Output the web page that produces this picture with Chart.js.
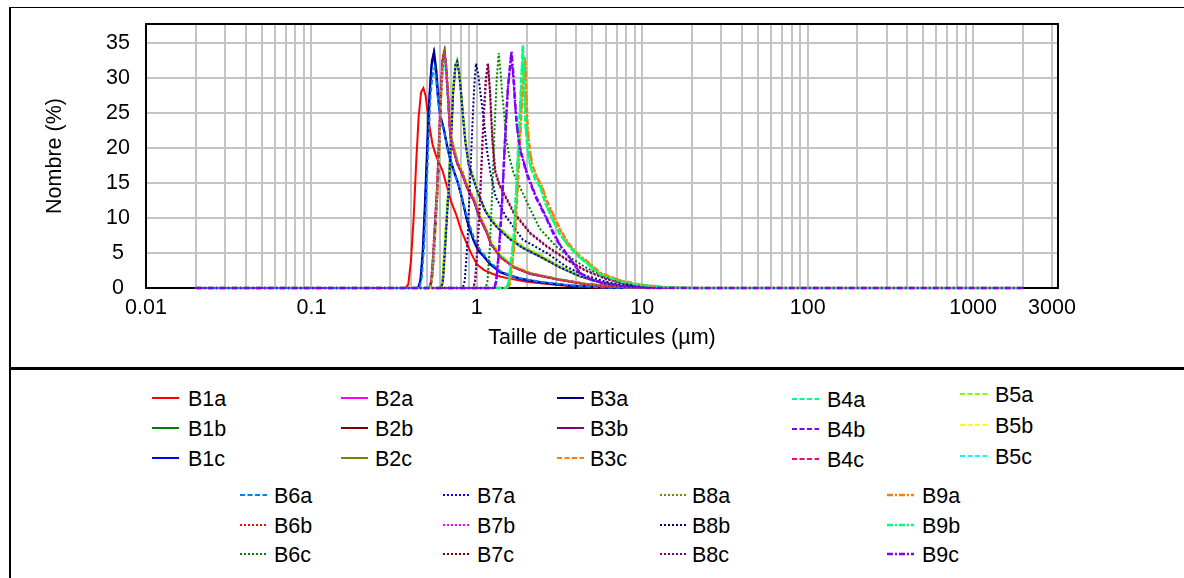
<!DOCTYPE html>
<html><head><meta charset="utf-8">
<script src="https://cdn.jsdelivr.net/npm/chart.js@4.4.1/dist/chart.umd.min.js"></script>
<style>
html,body{margin:0;padding:0;background:#fff;width:1184px;height:578px;overflow:hidden;font-family:"Liberation Sans",Arial,sans-serif;}
#frame{position:absolute;left:9px;top:7px;width:1200px;height:620px;border-left:2px solid #000;border-top:1.5px solid #000;box-sizing:border-box;}
#divider{position:absolute;left:10px;top:367px;width:1174px;height:2.5px;background:#000;}
#c{position:absolute;left:0;top:0;}
.lab{position:absolute;font-size:21.5px;line-height:24px;color:#000;white-space:nowrap;}
.smp{position:absolute;overflow:visible;}
</style></head><body>
<div id="frame"></div>
<canvas id="c" width="1184" height="368"></canvas>
<div id="divider"></div>
<div id="legend"></div>
<script>
// ---- data: [particle size (µm), number (%)] ----
const B1a = [[0.02,0],[0.37,0],[0.385,0.5],[0.40,4],[0.415,10],[0.43,18],[0.445,24.5],[0.46,28],[0.475,28.6],[0.49,27.5],[0.505,25],[0.52,22.8],[0.54,20.5],[0.565,19],[0.59,17.9],[0.62,16.8],[0.66,14.5],[0.70,12.3],[0.75,10.5],[0.80,8.4],[0.86,6.6],[0.93,4.8],[1.0,3.4],[1.1,2.6],[1.25,2.0],[1.4,1.6],[1.7,1.2],[2.0,0.9],[2.6,0.6],[3.3,0.35],[4.5,0.15],[6,0.05],[8,0],[2000,0]];
const B1b = [[0.02,0],[0.605,0],[0.62,1],[0.64,6],[0.66,11],[0.675,14.5],[0.695,21],[0.715,27.5],[0.74,31.5],[0.76,32.5],[0.78,31],[0.795,29],[0.815,25.9],[0.85,21.1],[0.89,17.8],[0.93,16.4],[1.02,13.5],[1.12,11.1],[1.21,9.9],[1.3,9.0],[1.39,8.3],[1.6,7.0],[1.9,5.8],[2.4,4.6],[3.2,3.0],[4.2,1.7],[5.6,0.8],[7.5,0.3],[10,0.1],[14,0],[2000,0]];
const B1c = [[0.02,0],[0.44,0],[0.455,1],[0.47,5],[0.485,12],[0.50,20],[0.515,27],[0.53,31.5],[0.548,33.5],[0.565,31],[0.58,27.5],[0.60,24.5],[0.63,22.8],[0.66,20.3],[0.69,18.3],[0.73,16.5],[0.76,15.4],[0.81,13],[0.87,9.7],[0.95,6.9],[1.02,5.3],[1.1,4.5],[1.2,3.4],[1.39,2.2],[1.6,1.7],[1.83,1.3],[2.4,0.8],[3.6,0.35],[5.6,0.1],[8,0],[2000,0]];
const B2a = [[0.02,0],[0.515,0],[0.53,1],[0.545,5],[0.56,10],[0.575,14.5],[0.59,21],[0.605,28],[0.62,32.5],[0.635,33.8],[0.65,32],[0.66,29.7],[0.675,25.9],[0.69,21.8],[0.725,19.7],[0.76,17.9],[0.815,16.4],[0.87,14.5],[0.96,12.6],[1.04,10.2],[1.16,7.8],[1.21,6.4],[1.39,4.5],[1.67,3.0],[2.1,2.1],[3.2,1.2],[4.5,0.6],[6.3,0.25],[9,0.05],[12,0],[2000,0]];
const B2b = [[0.02,0],[0.52,0],[0.535,1.5],[0.55,5.5],[0.565,10.5],[0.58,15],[0.595,22],[0.61,29],[0.625,33],[0.638,33.9],[0.652,31.5],[0.664,28.8],[0.678,25.2],[0.695,21.5],[0.73,19.4],[0.765,17.7],[0.82,16.2],[0.875,14.3],[0.96,12.5],[1.04,10.1],[1.16,7.7],[1.22,6.3],[1.39,4.4],[1.67,3.0],[2.1,2.0],[3.2,1.15],[4.5,0.55],[6.3,0.25],[9,0.05],[12,0],[2000,0]];
const B2c = [[0.02,0],[0.61,0],[0.625,1],[0.645,6],[0.665,11.5],[0.68,15],[0.70,21.5],[0.72,28],[0.745,31.8],[0.763,32.3],[0.783,30.6],[0.8,28.5],[0.82,25.5],[0.855,20.8],[0.895,17.6],[0.935,16.2],[1.025,13.4],[1.125,11],[1.215,9.8],[1.3,8.9],[1.39,8.2],[1.6,6.9],[1.9,5.7],[2.4,4.5],[3.2,2.9],[4.2,1.65],[5.6,0.8],[7.5,0.3],[10,0.1],[14,0],[2000,0]];
const B3a = [[0.02,0],[0.445,0],[0.46,1.5],[0.475,6],[0.49,13],[0.505,21],[0.52,28],[0.535,32.5],[0.552,33.8],[0.57,31],[0.585,27.5],[0.605,24.5],[0.635,22.5],[0.665,20.1],[0.695,18.2],[0.735,16.4],[0.765,15.2],[0.815,12.8],[0.875,9.6],[0.95,7.0],[1.02,5.4],[1.1,4.6],[1.2,3.5],[1.39,2.3],[1.6,1.8],[1.83,1.35],[2.4,0.85],[3.6,0.35],[5.6,0.1],[8,0],[2000,0]];
const B3b = [[0.02,0],[0.52,0],[0.535,1],[0.55,4.5],[0.565,9.5],[0.58,14],[0.595,21],[0.61,28],[0.625,32.2],[0.637,33.5],[0.65,31.8],[0.662,29],[0.676,25.5],[0.692,21.7],[0.727,19.6],[0.762,17.8],[0.817,16.3],[0.872,14.4],[0.96,12.4],[1.04,10],[1.16,7.7],[1.21,6.4],[1.39,4.5],[1.67,3.0],[2.1,2.1],[3.2,1.2],[4.5,0.6],[6.3,0.25],[9,0.05],[12,0],[2000,0]];
const B3c = [[0.02,0],[1.52,0],[1.57,0.6],[1.62,3],[1.69,7],[1.77,16],[1.85,25],[1.92,31.5],[1.95,33.0],[1.98,28.5],[2.02,23],[2.08,20],[2.15,17.8],[2.3,15.9],[2.46,14.6],[2.65,12.3],[2.95,9.9],[3.25,7.9],[3.6,6.2],[4.1,4.7],[4.6,3.8],[5.6,2.1],[7.3,1.1],[9.8,0.45],[14,0.1],[20,0],[2000,0]];
const B4a = [[0.02,0],[1.5,0],[1.55,0.5],[1.6,3],[1.67,7],[1.75,16.4],[1.83,25.9],[1.89,34.5],[1.93,29],[1.96,23.5],[2.03,19.5],[2.1,17.3],[2.25,15.5],[2.42,14.3],[2.6,12],[2.9,9.5],[3.2,7.5],[3.6,5.9],[4.1,4.5],[4.6,3.5],[5.6,1.9],[7.3,0.9],[9.8,0.4],[14,0.1],[20,0],[2000,0]];
const B4b = [[0.02,0],[1.28,0],[1.31,1.2],[1.36,5.5],[1.42,12.5],[1.48,21.5],[1.54,28.6],[1.61,33.2],[1.66,30.2],[1.70,26.3],[1.745,23.2],[1.83,19.9],[2.0,16.6],[2.27,13.2],[2.6,10.4],[2.9,8.0],[3.2,6.1],[3.5,4.9],[3.8,3.7],[4.2,2.2],[4.9,1.25],[6,0.6],[8,0.2],[11,0],[2000,0]];
const B4c = [[0.02,0],[0.518,0],[0.533,1],[0.548,5],[0.563,10],[0.578,14.5],[0.593,21.5],[0.608,28.5],[0.623,32.5],[0.637,33.3],[0.652,31.2],[0.663,28.9],[0.678,25.3],[0.694,21.4],[0.73,19.5],[0.766,17.7],[0.82,16.2],[0.876,14.4],[0.965,12.5],[1.045,10.1],[1.165,7.8],[1.22,6.4],[1.4,4.5],[1.68,3.1],[2.12,2.1],[3.2,1.2],[4.5,0.6],[6.3,0.25],[9,0.05],[12,0],[2000,0]];
const B5a = [[0.02,0],[0.605,0],[0.62,1.2],[0.64,6.5],[0.66,11.5],[0.675,14.8],[0.695,21.5],[0.715,28],[0.74,31.8],[0.758,32.6],[0.778,31.2],[0.795,29.2],[0.815,26],[0.85,21.3],[0.89,18],[0.93,16.6],[1.02,13.7],[1.12,11.3],[1.21,10.1],[1.3,9.2],[1.39,8.5],[1.6,7.2],[1.9,6.0],[2.4,4.8],[3.2,3.1],[4.2,1.8],[5.6,0.85],[7.5,0.35],[10,0.1],[14,0],[2000,0]];
const B5b = [[0.02,0],[0.52,0],[0.535,1],[0.55,4.5],[0.565,9],[0.58,13.5],[0.595,20],[0.61,27],[0.625,31.5],[0.64,32.8],[0.655,31],[0.667,28.5],[0.68,25.5],[0.697,22],[0.732,20],[0.768,18.2],[0.822,16.7],[0.878,14.8],[0.965,12.9],[1.045,10.5],[1.165,8.1],[1.22,6.8],[1.4,4.8],[1.68,3.2],[2.12,2.2],[3.2,1.25],[4.5,0.6],[6.3,0.25],[9,0.05],[12,0],[2000,0]];
const B5c = [[0.02,0],[0.515,0],[0.53,1],[0.545,4.5],[0.56,9.5],[0.575,14],[0.59,20.5],[0.605,27.5],[0.62,31.5],[0.635,32.4],[0.65,30.8],[0.661,28.6],[0.676,25.2],[0.692,21.6],[0.727,19.8],[0.762,18],[0.817,16.5],[0.872,14.6],[0.962,12.7],[1.042,10.3],[1.162,7.9],[1.215,6.6],[1.395,4.6],[1.675,3.1],[2.1,2.1],[3.2,1.2],[4.5,0.6],[6.3,0.25],[9,0.05],[12,0],[2000,0]];
const B6a = [[0.02,0],[0.45,0],[0.465,1.5],[0.48,6],[0.495,13],[0.51,21],[0.525,27.5],[0.54,30.5],[0.555,31.5],[0.57,29.5],[0.585,26.5],[0.605,24],[0.635,22.2],[0.665,19.8],[0.70,18],[0.735,16.2],[0.77,15],[0.82,12.6],[0.88,9.8],[0.96,7.2],[1.03,5.7],[1.1,4.8],[1.2,3.7],[1.39,2.4],[1.6,1.8],[1.83,1.4],[2.4,0.9],[3.6,0.4],[5.6,0.1],[8,0],[2000,0]];
const B6b = [[0.02,0],[0.515,0],[0.53,1.2],[0.545,5.2],[0.56,10.2],[0.575,14.6],[0.59,21.3],[0.605,28.3],[0.62,32.8],[0.635,33.8],[0.65,31.9],[0.66,29.6],[0.675,25.7],[0.69,21.7],[0.725,19.6],[0.76,17.8],[0.815,16.3],[0.87,14.4],[0.96,12.5],[1.04,10.1],[1.16,7.7],[1.21,6.3],[1.39,4.4],[1.67,2.95],[2.1,2.05],[3.2,1.15],[4.5,0.55],[6.3,0.2],[9,0.05],[12,0],[2000,0]];
const B6c = [[0.02,0],[1.13,0],[1.16,1],[1.2,6],[1.24,14],[1.28,23],[1.32,30],[1.356,33.6],[1.39,31],[1.42,28],[1.45,25.9],[1.51,21.1],[1.58,18.5],[1.67,16.4],[1.9,13.5],[2.1,11.3],[2.4,8.5],[3.0,6.0],[3.6,4.5],[4.5,3.0],[6,1.5],[8,0.6],[11,0.15],[15,0],[2000,0]];
const B7a = [[0.02,0],[0.61,0],[0.625,1.2],[0.645,6.2],[0.665,11.7],[0.68,15.2],[0.70,21.8],[0.72,28.2],[0.742,31.9],[0.76,32.4],[0.78,30.8],[0.797,28.7],[0.817,25.6],[0.852,21],[0.892,17.7],[0.932,16.3],[1.022,13.5],[1.122,11.1],[1.212,9.8],[1.3,8.9],[1.39,8.2],[1.6,6.9],[1.9,5.7],[2.4,4.5],[3.2,2.9],[4.2,1.7],[5.6,0.8],[7.5,0.3],[10,0.1],[14,0],[2000,0]];
const B7b = [[0.02,0],[0.52,0],[0.535,1.3],[0.55,5.3],[0.565,10.3],[0.58,14.8],[0.595,21.6],[0.61,28.6],[0.625,32.8],[0.638,33.6],[0.653,31.4],[0.664,29],[0.679,25.4],[0.695,21.6],[0.73,19.6],[0.765,17.8],[0.82,16.3],[0.875,14.4],[0.965,12.5],[1.045,10.1],[1.165,7.7],[1.215,6.3],[1.395,4.4],[1.675,3.0],[2.1,2.1],[3.2,1.15],[4.5,0.55],[6.3,0.2],[9,0.05],[12,0],[2000,0]];
const B7c = [[0.02,0],[0.95,0],[0.975,1],[1.01,6],[1.05,14],[1.09,23],[1.13,29.5],[1.165,32.2],[1.2,28],[1.24,21],[1.29,16.6],[1.36,14.8],[1.45,13.5],[1.67,10.7],[2.1,7.8],[2.65,5.9],[3.5,4.0],[4.5,2.5],[6,1.3],[8,0.6],[12,0.15],[16,0],[2000,0]];
const B8a = [[0.02,0],[0.52,0],[0.535,1.2],[0.55,5.5],[0.565,10.5],[0.58,15.2],[0.595,22],[0.61,29],[0.625,33.2],[0.64,34],[0.655,31.8],[0.666,29.3],[0.68,25.6],[0.697,21.8],[0.732,19.8],[0.768,18],[0.822,16.5],[0.878,14.6],[0.968,12.6],[1.048,10.2],[1.168,7.8],[1.22,6.4],[1.4,4.5],[1.68,3.0],[2.12,2.1],[3.2,1.2],[4.5,0.6],[6.3,0.25],[9,0.05],[12,0],[2000,0]];
const B8b = [[0.02,0],[0.82,0],[0.845,1],[0.875,6],[0.905,14],[0.935,22],[0.965,29],[0.99,32.1],[1.02,30.5],[1.05,28],[1.1,24.2],[1.15,19.8],[1.21,16.4],[1.3,13],[1.5,10.2],[1.9,6.9],[2.65,5.0],[3.5,3.0],[4.5,1.8],[6,0.9],[8,0.4],[12,0.1],[16,0],[2000,0]];
const B8c = [[0.02,0],[0.955,0],[0.98,1.2],[1.015,6.5],[1.055,14.5],[1.095,23.5],[1.135,29.8],[1.17,32.0],[1.205,27.8],[1.245,21],[1.295,16.8],[1.365,14.9],[1.455,13.6],[1.68,10.8],[2.1,7.9],[2.65,6.0],[3.5,4.1],[4.5,2.6],[6,1.35],[8,0.6],[12,0.15],[16,0],[2000,0]];
const B9a = [[0.02,0],[1.53,0],[1.58,0.5],[1.63,3],[1.70,7],[1.78,16],[1.86,25],[1.93,31],[1.96,32.6],[1.99,28],[2.03,22.8],[2.09,19.8],[2.16,17.6],[2.31,15.8],[2.47,14.6],[2.66,12.4],[2.96,10],[3.26,8],[3.6,6.3],[4.1,4.8],[4.6,3.9],[5.6,2.15],[7.3,1.1],[9.8,0.45],[14,0.1],[20,0],[2000,0]];
const B9b = [[0.02,0],[1.5,0],[1.55,0.6],[1.6,3.2],[1.67,7.2],[1.75,16.6],[1.83,26.2],[1.9,34.7],[1.94,29],[1.97,23.8],[2.04,19.7],[2.11,17.5],[2.26,15.6],[2.43,14.4],[2.6,12.1],[2.9,9.6],[3.2,7.6],[3.6,6.0],[4.1,4.6],[4.6,3.6],[5.6,1.95],[7.3,0.95],[9.8,0.4],[14,0.1],[20,0],[2000,0]];
const B9c = [[0.02,0],[1.28,0],[1.31,1],[1.36,5],[1.42,12],[1.48,21],[1.54,28.5],[1.62,33.8],[1.67,30],[1.71,26],[1.75,23],[1.83,19.7],[2.0,16.4],[2.27,13],[2.6,10.2],[2.9,7.8],[3.2,6.0],[3.5,4.8],[3.8,3.6],[4.2,2.1],[4.9,1.2],[6,0.6],[8,0.2],[11,0],[2000,0]];

const seriesNames = ['B1a','B1b','B1c','B2a','B2b','B2c','B3a','B3b','B3c','B4a','B4b','B4c','B5a','B5b','B5c','B6a','B6b','B6c','B7a','B7b','B7c','B8a','B8b','B8c','B9a','B9b','B9c'];
const seriesData = [B1a,B1b,B1c,B2a,B2b,B2c,B3a,B3b,B3c,B4a,B4b,B4c,B5a,B5b,B5c,B6a,B6b,B6c,B7a,B7b,B7c,B8a,B8b,B8c,B9a,B9b,B9c];

// x gridline values and labelled ticks; y ticks
const xGridValues = [0.01,0.02,0.03,0.04,0.05,0.06,0.07,0.08,0.09,0.1,0.2,0.3,0.4,0.5,0.6,0.7,0.8,0.9,1,2,3,4,5,6,7,8,9,10,20,30,40,50,60,70,80,90,100,200,300,400,500,600,700,800,900,1000,2000,3000];
const xTickLabels = [0.01,0.1,1,10,100,1000,3000];
const yTicks = [0,5,10,15,20,25,30,35];

// ---- styles ----
const seriesColors = ['#FF0000','#008000','#0000FF','#FF00FF','#800000','#808000','#000080','#800080','#FF8000','#00FF80','#8000FF','#FF0080','#80FF00','#FFFF00','#00FFFF','#0080FF','#FF0000','#008000','#0000FF','#FF00FF','#800000','#808000','#000080','#800080','#FF8000','#00FF80','#8000FF'];
const seriesStyles = ['solid','solid','solid','solid','solid','solid','solid','solid','dash','dash','dash','dash','dash','dash','dash','dash','dot','dot','dot','dot','dot','dot','dot','dot','dashdot','dashdot','dashdot'];
const dashPatterns = {solid:[], dash:[5,2.5], dot:[2,2], dashdot:[6,2,2,2]};
const widths = {solid:2, dash:2, dot:2, dashdot:2.5};

// legend layout: [sample line x, text x, text centre y]
const legendPos = [
 [152,188,399],[152,188,429],[152,188,459],
 [341,375,399],[341,375,429],[341,375,459],
 [557,590,399],[557,590,429],[557,590,459],
 [792,827,400],[792,827,430],[792,827,460],
 [960,995,395],[960,995,426],[960,995,457],
 [240,274,496],[240,274,526],[240,274,555],
 [443,477,496],[443,477,526],[443,477,555],
 [660,692,496],[660,692,526],[660,692,555],
 [887,922,496],[887,922,526],[887,922,555]
];

const FONT = {family:'"Liberation Sans", Arial, sans-serif', size:21.5};

const datasets = seriesNames.map((n,i)=>({
  label:n,
  data:seriesData[i],
  borderColor:seriesColors[i],
  backgroundColor:seriesColors[i],
  borderWidth:widths[seriesStyles[i]],
  borderDash:dashPatterns[seriesStyles[i]],
  pointRadius:0,
  tension:0,
  fill:false,
  order:seriesNames.length - i,
  clip:false
}));

const framePlugin = {
  id:'frame',
  beforeDatasetsDraw(chart){
    const {ctx, chartArea:a} = chart;
    ctx.save();
    ctx.strokeStyle = '#000';
    ctx.lineWidth = 2;
    ctx.strokeRect(a.left, a.top, a.right - a.left, a.bottom - a.top);
    ctx.restore();
  }
};

new Chart(document.getElementById('c'), {
  type:'line',
  data:{datasets},
  plugins:[framePlugin],
  options:{
    responsive:false,
    animation:false,
    devicePixelRatio:1,
    events:[],
    layout:{padding:{left:0, top:24, right:126, bottom:0}},
    plugins:{legend:{display:false}, tooltip:{enabled:false}, title:{display:false}},
    scales:{
      x:{
        type:'logarithmic',
        min:0.01, max:3260,
        afterBuildTicks:(s)=>{ s.ticks = xGridValues.map(v=>({value:v})); },
        afterFit:(s)=>{ s.height = 80; s.paddingLeft = 0; s.paddingRight = 0; },
        grid:{color:'#c4c4c4', lineWidth:2, drawTicks:false},
        border:{display:false},
        ticks:{
          autoSkip:false, maxRotation:0, minRotation:0, padding:7,
          color:'#000', font:FONT,
          callback:(v)=> xTickLabels.includes(v) ? String(v) : ''
        },
        title:{display:true, text:'Taille de particules (µm)', color:'#000', font:FONT, padding:{top:0,bottom:17}}
      },
      y:{
        type:'linear',
        min:0, max:37.75,
        afterBuildTicks:(s)=>{ s.ticks = yTicks.map(v=>({value:v})); },
        afterFit:(s)=>{ s.width = 146; s.paddingTop = 0; s.paddingBottom = 0; },
        grid:{color:'#c4c4c4', lineWidth:2, drawTicks:false},
        border:{display:false},
        ticks:{padding:16, crossAlign:'center', color:'#000', font:FONT},
        title:{display:true, text:'Nombre (%)', color:'#000', font:FONT, padding:{top:42,bottom:0}}
      }
    }
  }
});

// ---- HTML legend built from the dataset definitions ----
const leg = document.getElementById('legend');
seriesNames.forEach((n,i)=>{
  const [lx,tx,ty] = legendPos[i];
  const svg = document.createElementNS('http://www.w3.org/2000/svg','svg');
  svg.setAttribute('class','smp');
  svg.setAttribute('width','28'); svg.setAttribute('height','8');
  svg.style.left = lx+'px'; svg.style.top = (ty-5)+'px';
  const ln = document.createElementNS('http://www.w3.org/2000/svg','line');
  ln.setAttribute('x1','0'); ln.setAttribute('x2','27');
  ln.setAttribute('y1','4'); ln.setAttribute('y2','4');
  ln.setAttribute('stroke', seriesColors[i]);
  ln.setAttribute('stroke-width', String(widths[seriesStyles[i]]));
  const d = dashPatterns[seriesStyles[i]];
  if (d.length) ln.setAttribute('stroke-dasharray', d.join(' '));
  svg.appendChild(ln);
  leg.appendChild(svg);
  const sp = document.createElement('span');
  sp.className = 'lab';
  sp.textContent = n;
  sp.style.left = tx+'px'; sp.style.top = (ty-12)+'px';
  leg.appendChild(sp);
});
</script>
</body></html>
